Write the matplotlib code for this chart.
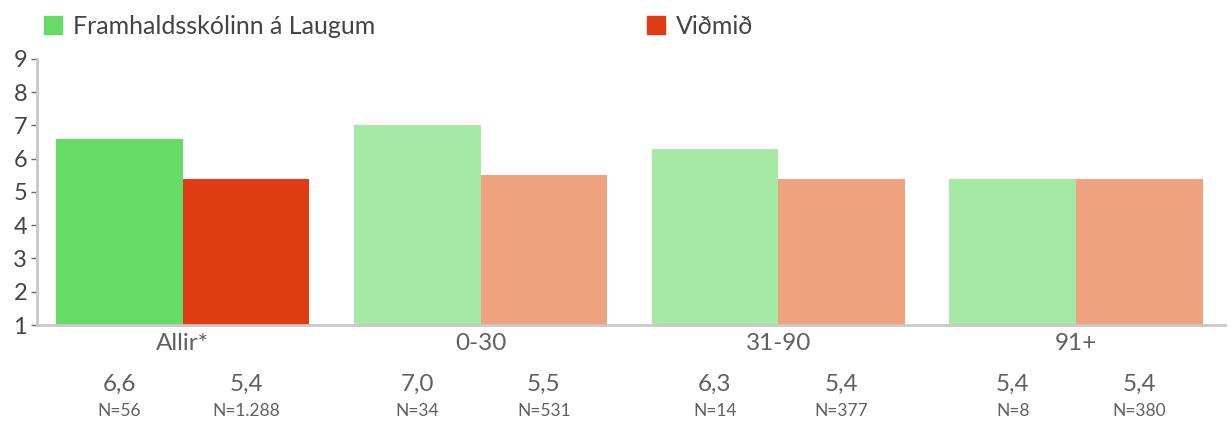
import matplotlib
matplotlib.use('Agg')
import matplotlib.pyplot as plt
from matplotlib.lines import Line2D
import numpy as np

plt.rcParams['font.family'] = ['Lato', 'DejaVu Sans']

# Data
categories = ['Allir*', '0-30', '31-90', '91+']
school = [6.6, 7.0, 6.3, 5.4]
benchmark = [5.4, 5.5, 5.4, 5.4]
school_n = ['N=56', 'N=34', 'N=14', 'N=8']
benchmark_n = ['N=1.288', 'N=531', 'N=377', 'N=380']
series_names = ['Framhaldsskólinn á Laugum', 'Viðmið']

green = '#66dc66'
green_light = '#a4e9a4'
red = '#e03c14'
red_light = '#eea27e'
text_col = '#606060'
axis_col = '#c8c8c8'

x = np.arange(len(categories))
width = 0.425

fig = plt.figure(figsize=(12.31, 4.21), dpi=100)
ax = fig.add_axes([0.030, 0.228, 0.965, 0.632])

green_cols = [green] + [green_light] * 3
red_cols = [red] + [red_light] * 3
ax.bar(x - width / 2, school, width, color=green_cols)
ax.bar(x + width / 2, benchmark, width, color=red_cols)

ax.set_ylim(1, 9)
ax.set_xlim(-0.49, 3.5)
ax.set_yticks(range(1, 10))
ax.set_xticks(x)
ax.set_xticklabels(categories)

for side in ['top', 'right']:
    ax.spines[side].set_visible(False)
for side in ['left', 'bottom']:
    ax.spines[side].set_color(axis_col)
    ax.spines[side].set_linewidth(2)

ax.tick_params(axis='y', length=4, width=1, color='#666666', labelsize=17,
               labelcolor='#444444', pad=3)
ax.tick_params(axis='x', length=0, labelsize=17.5, labelcolor=text_col, pad=6)

# value and N labels under the bars
for i in range(len(categories)):
    for xpos, val, n in [(x[i] - width / 2, school[i], school_n[i]),
                         (x[i] + width / 2, benchmark[i], benchmark_n[i])]:
        ax.annotate(f'{val:.1f}'.replace('.', ','), xy=(xpos, 0),
                    xycoords=('data', 'axes fraction'), xytext=(0, -43),
                    textcoords='offset points', ha='center', va='center',
                    fontsize=17.5, color=text_col)
        ax.annotate(n, xy=(xpos, 0), xycoords=('data', 'axes fraction'),
                    xytext=(0, -62), textcoords='offset points',
                    ha='center', va='center', fontsize=12.5, color=text_col)

handles = [Line2D([], [], marker='s', linestyle='none', markersize=13,
                  markerfacecolor=c, markeredgecolor=c) for c in [green, red]]
fig.legend(handles, series_names, loc='center left', bbox_to_anchor=(0.017, 0.938),
           ncol=2, frameon=False, fontsize=18, handlelength=0.8,
           handletextpad=0.4, columnspacing=10.8, labelcolor='#444444')

fig.savefig('out.png', dpi=100)
